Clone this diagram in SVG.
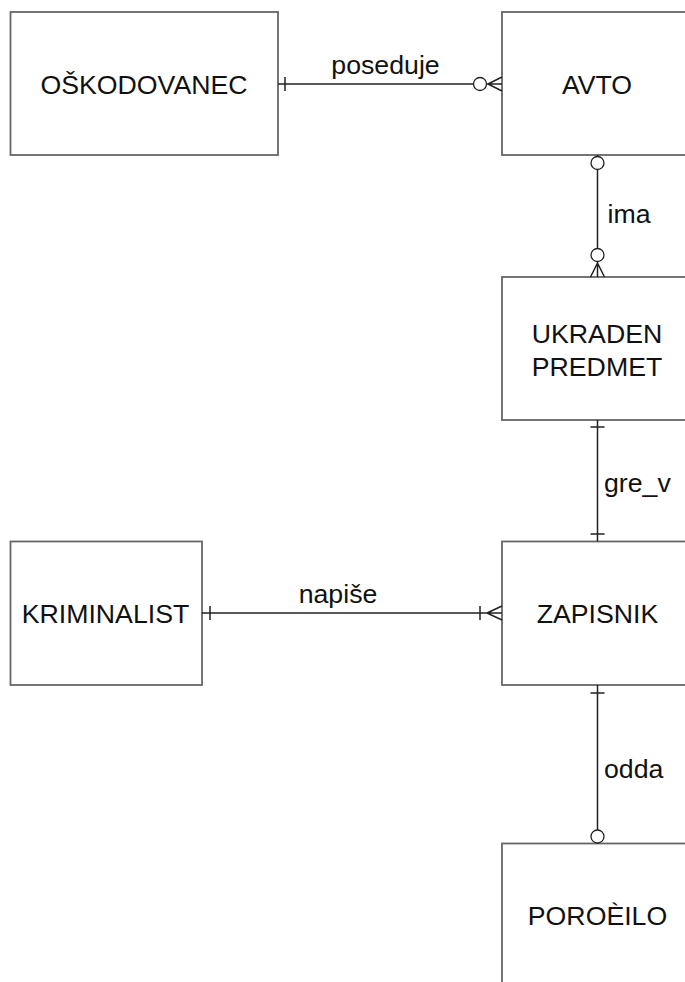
<svg xmlns="http://www.w3.org/2000/svg" width="685" height="982" viewBox="0 0 685 982">
<style>
.box{fill:#fff;stroke:#666;stroke-width:1.8}
.t{font-family:"Liberation Sans",Arial,sans-serif;font-size:26.7px;fill:#111;text-anchor:middle}
.l{font-family:"Liberation Sans",Arial,sans-serif;font-size:26.7px;fill:#111}
.c{fill:none;stroke:#222;stroke-width:1.5}
.o{fill:#fff;stroke:#222;stroke-width:1.3}
</style>
<rect width="685" height="982" fill="#fff"/>
<g id="oskodovanec"><rect class="box" x="10.5" y="12" width="267.5" height="143"/><text class="t" x="144" y="94">OŠKODOVANEC</text></g>
<g id="avto"><rect class="box" x="502" y="12" width="190" height="143"/><text class="t" x="597" y="94">AVTO</text></g>
<g id="ukraden"><rect class="box" x="502" y="277" width="190" height="143"/><text class="t" x="597" y="343">UKRADEN</text><text class="t" x="597" y="376">PREDMET</text></g>
<g id="kriminalist"><rect class="box" x="10.5" y="541.5" width="191.5" height="143.5"/><text class="t" x="105.5" y="623">KRIMINALIST</text></g>
<g id="zapisnik"><rect class="box" x="502" y="541.5" width="190" height="143.5"/><text class="t" x="597.5" y="623">ZAPISNIK</text></g>
<g id="porocilo"><rect class="box" x="502" y="843.5" width="190" height="150"/><text class="t" x="597.5" y="925">POROÈILO</text></g>
<g id="connectors">
<path class="c" d="M278 84H502M285 77V91M488 84L502 77M488 84L502 91"/>
<circle class="o" cx="480" cy="84" r="6.5"/>
<text class="t" x="385.5" y="74">poseduje</text>
<path class="c" d="M597.5 155V277M597.5 263L590.5 277M597.5 263L604.5 277"/>
<circle class="o" cx="597.5" cy="163" r="6.5"/>
<circle class="o" cx="597.5" cy="255" r="6.5"/>
<text class="l" x="607.5" y="223">ima</text>
<path class="c" d="M597.5 420V541.5M590.5 427H604.5M590.5 534H604.5"/>
<text class="l" x="604" y="492">gre_v</text>
<path class="c" d="M202 613H502M210 606V620M480 606V620M487 613L502 606M487 613L502 620"/>
<text class="t" x="338" y="603">napiše</text>
<path class="c" d="M597.5 685V843.5M590.5 693H604.5"/>
<circle class="o" cx="597.5" cy="836.5" r="6.5"/>
<text class="l" x="604" y="778">odda</text>
</g>
</svg>
